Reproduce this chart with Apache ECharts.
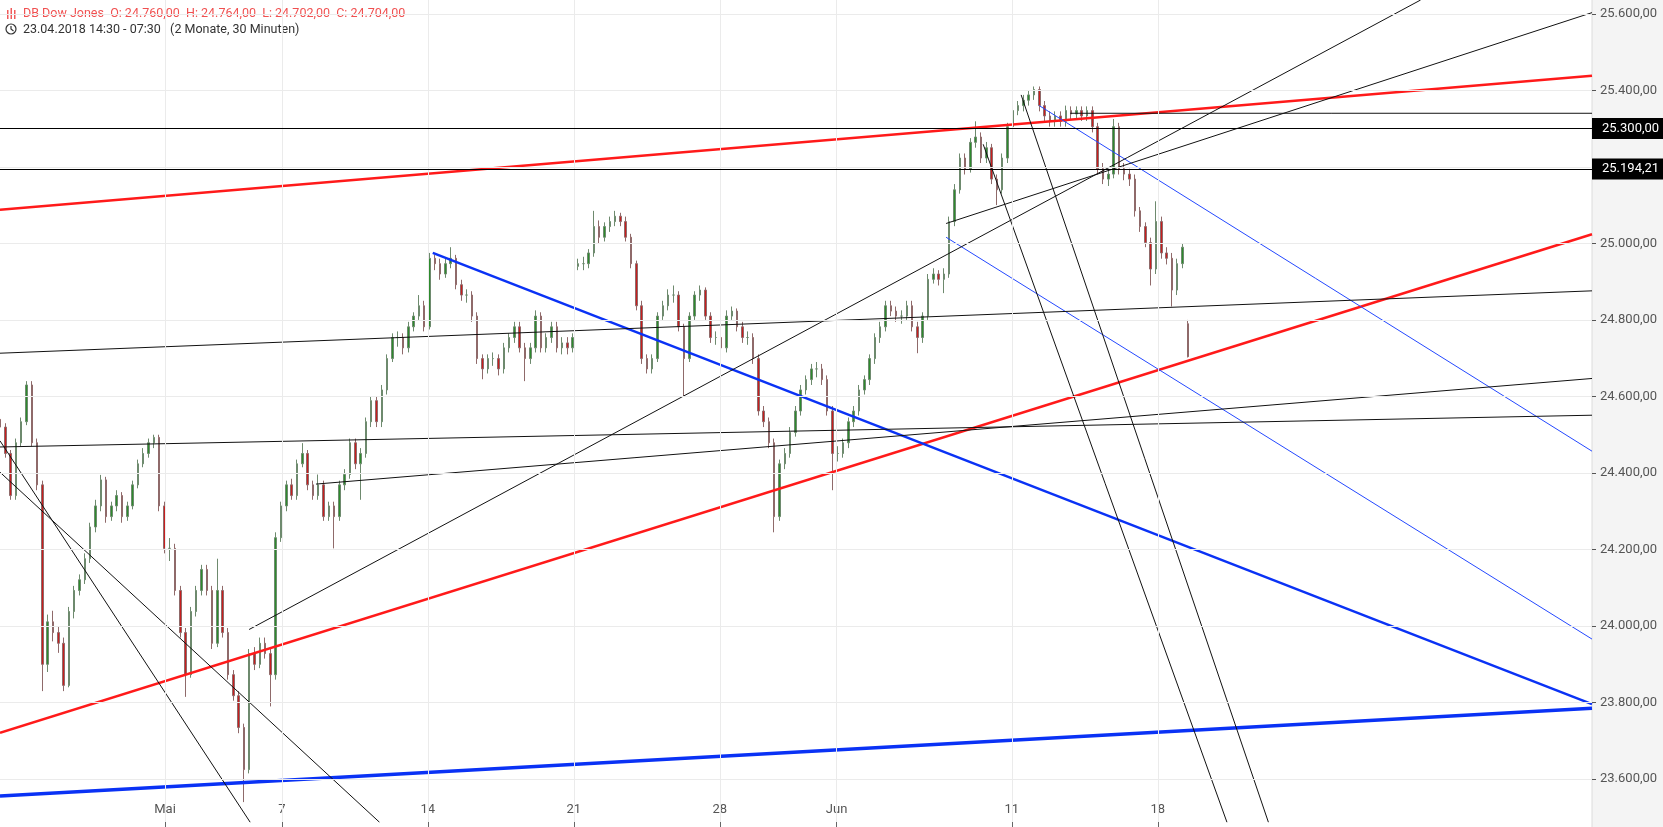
<!DOCTYPE html>
<html>
<head>
<meta charset="utf-8">
<script src="https://cdn.jsdelivr.net/npm/echarts@6/dist/echarts.min.js"></script>
<style>
html,body{margin:0;padding:0;background:#fff;}
#chart{width:1663px;height:827px;}
</style>
</head>
<body>
<div id="chart"></div>
<script>
// time axis: trading-day index (23.04 = 0, Mai 1 = 6, ...)
var firstBarDay = 0.349;
var barStepDay = 0.1816;

// 30-minute bars, sampled, [open, close, low, high]
var candles = [
  [24540,24520,24500,24560],[24520,24451,24440,24530],[24451,24341,24330,24460],[24341,24479,24330,24490],[24479,24534,24470,24545],
  [24534,24630,24525,24640],[24630,24479,24470,24640],[24479,24369,24355,24490],[24369,23900,23830,24380],[23900,24011,23880,24030],
  [24011,23983,23960,24040],[23983,23955,23930,24000],[23955,23845,23830,23970],[23845,24038,23840,24050],[24038,24093,24020,24105],
  [24093,24121,24080,24135],[24121,24176,24110,24190],[24176,24259,24165,24270],[24259,24314,24245,24330],[24314,24382,24300,24395],
  [24382,24286,24270,24390],[24286,24314,24275,24325],[24314,24341,24300,24355],[24341,24286,24270,24350],[24286,24314,24275,24325],
  [24314,24369,24305,24380],[24369,24424,24360,24435],[24424,24451,24415,24465],[24451,24479,24440,24490],[24479,24493,24465,24500],
  [24493,24314,24300,24500],[24314,24203,24190,24325],[24203,24203,24170,24230],[24203,24093,24080,24215],[24093,23983,23970,24105],
  [23983,23873,23815,23995],[23873,24038,23865,24050],[24038,24093,24025,24105],[24093,24148,24080,24160],[24148,24093,24080,24160],
  [24093,23955,23940,24105],[23955,24093,23945,24176],[24093,23983,23970,24105],[23983,23873,23860,23995],[23873,23818,23805,23885],
  [23818,23735,23720,23830],[23735,23625,23540,23745],[23625,23928,23615,23940],[23928,23900,23885,23945],[23900,23955,23890,23970],
  [23955,23928,23915,23970],[23928,23873,23790,23940],[23873,24231,23860,24245],[24231,24314,24220,24325],[24314,24369,24300,24380],
  [24369,24341,24330,24385],[24341,24424,24330,24435],[24424,24451,24415,24478],[24451,24369,24355,24460],[24369,24341,24330,24380],
  [24341,24369,24330,24396],[24369,24286,24275,24380],[24286,24314,24275,24325],[24314,24286,24203,24325],[24286,24369,24275,24380],
  [24369,24396,24355,24410],[24396,24479,24385,24490],[24479,24424,24410,24490],[24424,24451,24330,24465],[24451,24534,24440,24545],
  [24534,24589,24520,24600],[24589,24534,24520,24600],[24534,24617,24520,24630],[24617,24699,24605,24710],[24699,24754,24690,24765],
  [24754,24754,24730,24770],[24754,24727,24710,24765],[24727,24782,24715,24795],[24782,24810,24770,24820],[24810,24837,24800,24865],
  [24837,24782,24770,24850],[24782,24961,24775,24975],[24961,24947,24930,24970],[24947,24920,24905,24960],[24920,24947,24910,24960],
  [24947,24961,24935,24990],[24961,24892,24880,24970],[24892,24865,24850,24905],[24865,24865,24845,24880],[24865,24810,24795,24875],
  [24810,24699,24685,24820],[24699,24672,24645,24710],[24672,24699,24660,24710],[24699,24699,24680,24715],[24699,24672,24655,24710],
  [24672,24727,24660,24740],[24727,24754,24715,24765],[24754,24782,24740,24795],[24782,24727,24715,24795],[24727,24699,24640,24740],
  [24699,24727,24685,24740],[24727,24810,24715,24825],[24810,24727,24715,24820],[24727,24754,24715,24765],[24754,24782,24740,24795],
  [24782,24727,24715,24795],[24727,24740,24710,24755],[24740,24727,24710,24755],[24727,24754,24715,24765],[24940,24947,24930,24960],
  [24947,24947,24930,24965],[24947,24975,24935,24985],[24975,25044,24965,25085],[25044,25016,25000,25060],[25016,25044,25005,25055],
  [25044,25057,25030,25070],[25057,25071,25045,25085],[25071,25057,25045,25080],[25057,25016,25005,25070],[25016,24947,24935,25025],
  [24947,24837,24825,24955],[24837,24699,24685,24850],[24699,24672,24660,24710],[24672,24699,24660,24710],[24699,24810,24690,24820],
  [24810,24837,24800,24850],[24837,24865,24825,24880],[24865,24865,24845,24890],[24865,24782,24770,24875],[24782,24699,24600,24790],
  [24699,24810,24690,24820],[24810,24865,24800,24875],[24865,24878,24850,24890],[24878,24810,24800,24885],[24810,24754,24740,24820],
  [24754,24754,24735,24770],[24754,24727,24715,24765],[24727,24810,24715,24825],[24810,24823,24800,24835],[24823,24782,24770,24830],
  [24782,24754,24740,24795],[24754,24754,24735,24770],[24754,24699,24685,24765],[24699,24562,24550,24710],[24562,24534,24520,24575],
  [24534,24479,24465,24545],[24479,24286,24245,24490],[24286,24424,24275,24435],[24424,24451,24410,24465],[24451,24506,24440,24520],
  [24506,24562,24495,24575],[24562,24617,24550,24630],[24617,24644,24605,24655],[24644,24672,24630,24685],[24672,24672,24650,24690],
  [24672,24644,24630,24685],[24644,24562,24550,24655],[24562,24451,24355,24575],[24451,24451,24430,24470],[24451,24479,24440,24490],
  [24479,24534,24465,24545],[24534,24562,24520,24575],[24562,24617,24550,24630],[24617,24644,24605,24655],[24644,24699,24630,24710],
  [24699,24754,24685,24765],[24754,24782,24740,24795],[24782,24837,24770,24850],[24837,24823,24810,24850],[24823,24810,24795,24835],
  [24810,24810,24790,24825],[24810,24837,24800,24850],[24837,24782,24770,24850],[24782,24754,24713,24795],[24754,24810,24740,24820],
  [24810,24906,24800,24920],[24906,24920,24895,24935],[24920,24906,24890,24930],[24906,24920,24870,24935],[24920,25057,24910,25070],
  [25057,25140,25045,25155],[25140,25223,25130,25235],[25223,25195,25180,25235],[25195,25264,25185,25275],[25264,25278,25250,25319],
  [25278,25223,25210,25290],[25223,25250,25210,25265],[25250,25168,25155,25260],[25168,25140,25100,25180],[25140,25223,25130,25235],
  [25223,25305,25210,25315],[25305,25347,25295,25360],[25347,25360,25335,25372],[25360,25374,25345,25388],[25374,25388,25360,25400],
  [25388,25402,25375,25410],[25402,25360,25345,25410],[25360,25333,25320,25372],[25333,25319,25305,25345],[25319,25333,25305,25345],
  [25333,25319,25305,25345],[25319,25347,25305,25360],[25347,25338,25325,25358],[25338,25347,25325,25358],[25347,25333,25320,25358],
  [25333,25347,25320,25358],[25347,25305,25290,25358],[25305,25195,25180,25315],[25195,25168,25155,25210],[25168,25181,25150,25195],
  [25181,25305,25170,25325],[25305,25195,25180,25315],[25195,25181,25165,25210],[25181,25168,25150,25195],[25168,25085,25070,25180],
  [25085,25044,25030,25095],[25044,25002,24990,25055],[25002,24933,24890,25015],[24933,25057,24920,25110],[25057,24975,24960,25070],
  [24975,24961,24945,24990],[24961,24878,24835,24975],[24878,24947,24865,24960],[24947,24990,24935,25000],[24790,24704,24702,24800]
];

// axis
var xMin = 0.349, xMax = 54.87;
var yMin = 23488, yMax = 25636;
var yTicks = [23600,23800,24000,24200,24400,24600,24800,25000,25200,25400,25600];
var xTickDays = [6,10,15,20,25,29,35,40];
var xTickLabels = ['Mai','7','14','21','28','Jun','11','18'];

// drawn trend lines: [[day, value], [day, value]]
var redLines = [
  [[0.349,25088],[54.87,25438]],
  [[0.349,23721],[54.87,25024]]
];
var blueThick = [[0.349,23556],[54.87,23785]];
var blueMedium = [[15.17,24975],[54.87,23796]];
var blueThin = [
  [[32.75,25016],[54.87,23966]],
  [[35.94,25360],[54.87,24457]]
];
var blackLines = [
  [[0.349,24713],[54.87,24876]],
  [[0.349,24468],[54.87,24551]],
  [[11.17,24371],[54.87,24647]],
  [[8.88,23991],[49.0,25636]],
  [[32.75,25052],[54.87,25603]],
  [[34.02,25259],[42.37,23487]],
  [[35.32,25388],[43.79,23487]],
  [[0.349,24484],[8.92,23487]],
  [[0.349,24402],[13.35,23487]],
  [[37.0,25340],[54.87,25340]]
];
var levelLines = [25300, 25194.21];
var lastPrice = 24704;

function fmt(v, dec) {
  var s = v.toFixed(dec);
  var parts = s.split('.');
  var intPart = parts[0].replace(/\B(?=(\d{3})+(?!\d))/g, '.');
  return intPart + ',' + parts[1];
}

var candleData = candles.map(function (c, i) {
  return [firstBarDay + i * barStepDay, c[0], c[1], c[2], c[3]];
});

function lineSeries(pts, color, width) {
  return {
    type: 'line', data: pts, showSymbol: false, silent: true, clip: true,
    lineStyle: {color: color, width: width}, z: 3, animation: false
  };
}

var series = [];
// grid lines
series.push({
  type: 'line', data: [], silent: true,
  markLine: {
    symbol: 'none', silent: true, animation: false,
    label: {show: false},
    lineStyle: {color: '#ebebeb', width: 1, type: 'solid'},
    data: yTicks.map(function (v) { return {yAxis: v}; })
      .concat(xTickDays.map(function (d) { return {xAxis: d}; }))
  }
});
series.push({
  type: 'candlestick', data: candleData, barWidth: 2,
  encode: {x: 0, y: [1, 2, 3, 4]},
  itemStyle: {color: '#2d8a2d', color0: '#c81e1e', borderColor: '#6e8a6e', borderColor0: '#8f6a6a', borderWidth: 1},
  z: 2, animation: false
});
redLines.forEach(function (l) { series.push(lineSeries(l, '#ff1a1a', 2.5)); });
series.push(lineSeries(blueThick, '#0a32f5', 3.5));
series.push(lineSeries(blueMedium, '#0a32f5', 2.5));
blueThin.forEach(function (l) { series.push(lineSeries(l, '#2448ff', 1)); });
blackLines.forEach(function (l) { series.push(lineSeries(l, '#111', 1)); });

// level lines with price boxes
series.push({
  type: 'line', data: [], silent: true,
  markLine: {
    symbol: 'none', silent: true, animation: false,
    lineStyle: {color: '#000', width: 1.2, type: 'solid'},
    label: {
      show: true, position: 'end', distance: 0,
      formatter: function (p) { return fmt(p.value, 2); },
      backgroundColor: '#000', color: '#fff', fontFamily: 'Roboto', fontSize: 13,
      padding: [4, 6, 4, 10]
    },
    data: levelLines.map(function (v) { return {yAxis: v}; })
      .concat([{yAxis: lastPrice, lineStyle: {opacity: 0},
        label: {backgroundColor: '#ef5e5a', color: '#222'}}])
  }
});

var chart = echarts.init(document.getElementById('chart'));
chart.setOption({
  animation: false,
  grid: {left: 0, right: 71, top: 0, bottom: 5},
  xAxis: {
    type: 'value', min: xMin, max: xMax,
    axisLine: {show: false},
    splitLine: {show: false},
    axisTick: {show: true, length: 5, lineStyle: {color: '#666'}, customValues: xTickDays},
    axisLabel: {
      inside: true, margin: 6, color: '#555', fontFamily: 'Roboto', fontSize: 13,
      customValues: xTickDays,
      formatter: function (v) {
        var i = xTickDays.indexOf(Math.round(v));
        return i >= 0 ? xTickLabels[i] : '';
      }
    }
  },
  yAxis: {
    type: 'value', position: 'right', min: yMin, max: yMax, scale: true,
    axisLine: {show: false},
    splitLine: {show: false},
    axisTick: {show: true, length: 4, inside: false, lineStyle: {color: '#555'}, customValues: yTicks},
    axisLabel: {
      margin: 8, color: '#555', fontFamily: 'Roboto', fontSize: 13,
      customValues: yTicks,
      formatter: function (v) { return fmt(v, 2); }
    }
  },
  graphic: [
    {type: 'rect', silent: true, z: -10, shape: {x: 1592, y: 0, width: 71, height: 827}, style: {fill: '#f4f4f4'}},
    {type: 'line', silent: true, z: -9, shape: {x1: 1592, y1: 0, x2: 1592, y2: 827}, style: {stroke: '#dcdcdc', lineWidth: 1}},
    {type: 'rect', shape: {x: 7, y: 10, width: 1.5, height: 9}, style: {fill: '#f05a5a'}},
    {type: 'rect', shape: {x: 10.5, y: 8, width: 1.5, height: 11}, style: {fill: '#f05a5a'}},
    {type: 'rect', shape: {x: 14, y: 10, width: 1.5, height: 9}, style: {fill: '#f05a5a'}},
    {type: 'text', left: 23, top: 7, style: {
      text: 'DB Dow Jones  O: 24.760,00  H: 24.764,00  L: 24.702,00  C: 24.704,00',
      fill: '#f05050', font: '12.5px Roboto'}},
    {type: 'circle', shape: {cx: 11, cy: 29, r: 5}, style: {fill: 'none', stroke: '#333', lineWidth: 1.2}},
    {type: 'polyline', shape: {points: [[11, 26], [11, 29], [13.5, 31]]}, style: {fill: 'none', stroke: '#333', lineWidth: 1.2}},
    {type: 'text', left: 23, top: 23, style: {
      text: '23.04.2018 14:30 - 07:30   (2 Monate, 30 Minuten)',
      fill: '#333', font: '12.5px Roboto'}}
  ],
  series: series
});
</script>
</body>
</html>
